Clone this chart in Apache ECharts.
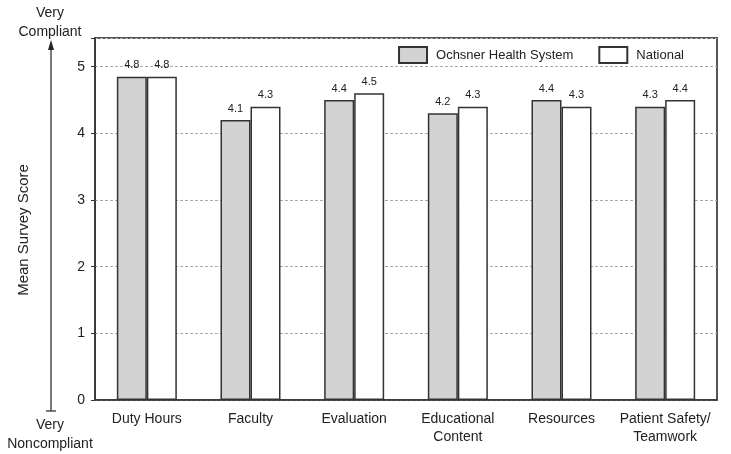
<!DOCTYPE html>
<html><head><meta charset="utf-8">
<script src="https://cdn.jsdelivr.net/npm/echarts@6/dist/echarts.min.js"></script>
<style>html,body{margin:0;padding:0;background:#fff}#c{width:731px;height:454px}</style>
</head><body><div id="c"></div>
<script>
const categories = ['Duty Hours', 'Faculty', 'Evaluation', 'Educational\nContent', 'Resources', 'Patient Safety/\nTeamwork'];
const ochsnerValues = [4.85, 4.2, 4.5, 4.3, 4.5, 4.4];
const nationalValues = [4.85, 4.4, 4.6, 4.4, 4.4, 4.5];
const ochsnerLabels = ['4.8', '4.1', '4.4', '4.2', '4.4', '4.3'];
const nationalLabels = ['4.8', '4.3', '4.5', '4.3', '4.3', '4.4'];
const yTicks = [0, 1, 2, 3, 4, 5];

const FONT = 'Liberation Sans, Arial, Helvetica, sans-serif';
const chart = echarts.init(document.getElementById('c'));
chart.setOption({
  animation: false,
  textStyle: { fontFamily: FONT },
  grid: { left: 95, right: 14, top: 38, bottom: 54, show: true, borderColor: '#555', borderWidth: 2, backgroundColor: 'transparent' },
  legend: {
    right: 42, top: 41, itemWidth: 28, itemHeight: 16, itemGap: 25, icon: 'rect',
    textStyle: { fontSize: 13, color: '#222', fontFamily: FONT, padding: [0, 0, 0, 4] },
    data: ['Ochsner Health System', 'National']
  },
  xAxis: {
    type: 'category', data: categories,
    axisLine: { lineStyle: { color: '#333', width: 1.5 } },
    axisTick: { show: false },
    axisLabel: { fontSize: 14, color: '#222', lineHeight: 18, margin: 10, fontFamily: FONT, interval: 0 }
  },
  yAxis: {
    type: 'value', min: 0, max: 5.43, interval: 1,
    axisLine: { show: true, lineStyle: { color: '#333', width: 1.5 } },
    axisTick: { show: true, length: 4, lineStyle: { color: '#333' } },
    axisLabel: { fontSize: 14, color: '#222', margin: 10, fontFamily: FONT,
      formatter: v => yTicks.includes(v) ? String(v) : '' },
    splitLine: { show: true, lineStyle: { color: '#aaa', type: [3, 2], width: 1 } }
  },
  series: [
    {
      name: 'Ochsner Health System', type: 'bar', data: ochsnerValues,
      barWidth: 30, barGap: '0%',
      itemStyle: { color: '#d3d3d3', borderColor: '#333', borderWidth: 1.5 },
      label: { show: true, position: 'top', distance: 6, fontSize: 11, color: '#222', fontFamily: FONT,
        formatter: p => ochsnerLabels[p.dataIndex] }
    },
    {
      name: 'National', type: 'bar', data: nationalValues,
      barWidth: 30,
      itemStyle: { color: '#ffffff', borderColor: '#333', borderWidth: 1.5 },
      label: { show: true, position: 'top', distance: 6, fontSize: 11, color: '#222', fontFamily: FONT,
        formatter: p => nationalLabels[p.dataIndex] }
    }
  ],
  graphic: [
    { type: 'text', x: 50, y: 4, style: { text: 'Very\nCompliant', lineHeight: 19, fill: '#222', align: 'center', font: '14px ' + FONT } },
    { type: 'text', x: 50, y: 416, style: { text: 'Very\nNoncompliant', lineHeight: 19, fill: '#222', align: 'center', font: '14px ' + FONT } },
    { type: 'line', shape: { x1: 51, y1: 48, x2: 51, y2: 411 }, style: { stroke: '#222', lineWidth: 1.2 } },
    { type: 'line', shape: { x1: 46, y1: 411, x2: 56, y2: 411 }, style: { stroke: '#222', lineWidth: 1.2 } },
    { type: 'polygon', shape: { points: [[51, 40], [48, 50], [54, 50]] }, style: { fill: '#222' } },
    { type: 'text', x: 24, y: 230, rotation: Math.PI / 2, style: { text: 'Mean Survey Score', fill: '#222', align: 'center', verticalAlign: 'middle', font: '15px ' + FONT } }
  ]
});
</script></body></html>
